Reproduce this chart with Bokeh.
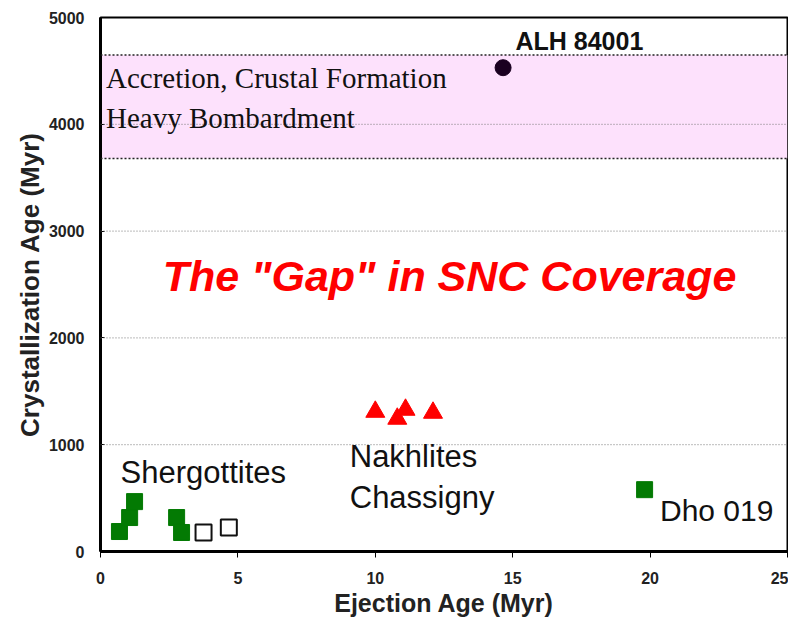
import math
from bokeh.plotting import figure
from bokeh.models import Range1d, Label, BoxAnnotation, Span, FixedTicker
from bokeh.embed import file_html
from bokeh.resources import INLINE

# ---- data ----
sherg_x = [0.69, 1.06, 1.24, 2.77, 2.95]
sherg_y = [187, 318, 467, 318, 178]
sherg_open_x = [3.75, 4.67]
sherg_open_y = [178, 224]
nakh_x = [10.0, 10.8, 11.1, 12.1]
nakh_y = [1308, 1243, 1327, 1299]
alh_x = [14.65]
alh_y = [4530]
dho_x = [19.8]
dho_y = [579]
band_bottom = 3680
band_top = 4650
x_ticks = [0, 5, 10, 15, 20, 25]
y_ticks = [0, 1000, 2000, 3000, 4000, 5000]
grid_y = [1000, 2000, 3000, 4000]

p = figure(width=788, height=619, output_backend="svg", toolbar_location=None,
           x_range=Range1d(0, 25), y_range=Range1d(0, 5000),
           min_border_left=100, min_border_right=1, min_border_top=17, min_border_bottom=68)
p.background_fill_color = "white"
p.border_fill_color = "white"
p.outline_line_color = "black"
p.outline_line_width = 2
p.xgrid.visible = False
p.ygrid.visible = False

# band
p.add_layout(BoxAnnotation(bottom=band_bottom, top=band_top, fill_color="#FDE1FC",
                           fill_alpha=1.0, line_alpha=0, level="underlay"))
for gy in grid_y:
    p.add_layout(Span(location=gy, dimension="width", line_color="#777777",
                      line_dash="1 2", line_width=1))
for by in [band_bottom, band_top]:
    p.add_layout(Span(location=by, dimension="width", line_color="#222222",
                      line_dash="2 2", line_width=1.5))

# axes
p.xaxis.ticker = FixedTicker(ticks=x_ticks)
p.yaxis.ticker = FixedTicker(ticks=y_ticks)
for ax in (p.xaxis[0], p.yaxis[0]):
    ax.axis_line_color = "black"
    ax.axis_line_width = 3
    ax.major_label_text_font = "Liberation Sans"
    ax.major_label_text_font_style = "bold"
    ax.major_label_text_font_size = "16px"
    ax.major_label_text_color = "#222222"
    ax.minor_tick_line_color = None
    ax.major_tick_line_color = "black"
    ax.major_tick_line_width = 1
p.xaxis.major_tick_out = 6
p.xaxis.major_tick_in = 0
p.xaxis.major_label_standoff = 14
p.yaxis.major_tick_out = 0
p.yaxis.major_tick_in = 4
p.yaxis.major_label_standoff = 16

p.xaxis.axis_label = "Ejection Age (Myr)"
p.xaxis.axis_label_text_font = "Liberation Sans"
p.xaxis.axis_label_text_font_style = "bold"
p.xaxis.axis_label_text_font_size = "25px"
p.xaxis.axis_label_text_color = "#222222"
p.xaxis.axis_label_standoff = 2

p.yaxis.axis_label = "Crystallization Age (Myr)"
p.yaxis.axis_label_text_font = "Liberation Sans"
p.yaxis.axis_label_text_font_style = "bold"
p.yaxis.axis_label_text_font_size = "26px"
p.yaxis.axis_label_text_color = "#222222"
p.yaxis.axis_label_standoff = 1

# markers
p.scatter(sherg_x, sherg_y, marker="square", size=16, fill_color="#037A03",
          line_color="#037A03")
p.scatter(sherg_open_x, sherg_open_y, marker="square", size=16, fill_color="white",
          line_color="#111111", line_width=2)
p.scatter(nakh_x, nakh_y, marker="triangle", size=19, fill_color="#FF0000",
          line_color="#FF0000")
p.scatter(alh_x, alh_y, marker="circle", size=16, fill_color="#1A0020",
          line_color="#1A0020")
p.scatter(dho_x, dho_y, marker="square", size=16, fill_color="#037A03",
          line_color="#037A03")

def lab(x, y, t, size, font="Liberation Sans", style="normal", color="#111111", align="left"):
    p.add_layout(Label(x=x, y=y, text=t, text_align=align, text_baseline="middle",
                       text_font=font, text_font_style=style,
                       text_font_size=size, text_color=color))

lab(0.2, 4430, "Accretion, Crustal Formation", "29px", font="Liberation Serif", color="#111111")
lab(0.2, 4056, "Heavy Bombardment", "29px", font="Liberation Serif", color="#111111")
lab(15.1, 4776, "ALH 84001", "25px", style="bold")
lab(12.7, 2580, "The \"Gap\" in SNC Coverage", "43px", style="bold italic",
    color="#FF0000", align="center")
lab(0.73, 738, "Shergottites", "31px")
lab(9.07, 888, "Nakhlites", "31px")
lab(9.07, 505, "Chassigny", "31px")
lab(20.36, 383, "Dho 019", "30px")

open("out.html", "w").write(file_html(p, INLINE))
